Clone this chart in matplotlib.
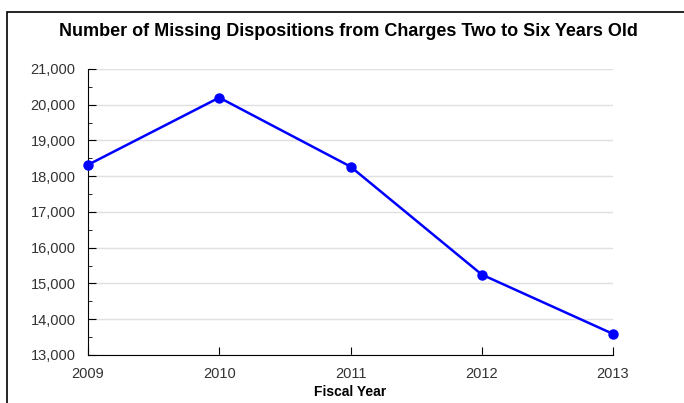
import matplotlib
matplotlib.use("Agg")
import matplotlib.pyplot as plt
from matplotlib.patches import Rectangle
from matplotlib.ticker import MultipleLocator, FuncFormatter

years = [2009, 2010, 2011, 2012, 2013]
missing = [18320, 20200, 18270, 15250, 13590]

plt.rcParams['font.family'] = ['Liberation Sans', 'DejaVu Sans']

fig = plt.figure(figsize=(6.84, 4.03), dpi=100)
ax = fig.add_axes([88/684, 1-355/403, (613-88)/684, (355-69)/403])

# figure frame (left and top visible)
fig.patches.append(Rectangle((7/684, -0.1), 1.2, 1 - 12/403 + 0.1, transform=fig.transFigure,
                             fill=False, edgecolor='black', linewidth=1.2, clip_on=False))

ax.plot(years, missing, color='#0000ff', linewidth=1.8, marker='o', markersize=6.5, clip_on=False, zorder=3)

ax.set_xlim(2009, 2013)
ax.set_ylim(13000, 21000)
ax.set_xticks(years)
ax.yaxis.set_major_locator(MultipleLocator(1000))
ax.yaxis.set_minor_locator(MultipleLocator(500))
ax.yaxis.set_major_formatter(FuncFormatter(lambda v, p: f"{int(v):,}"))
ax.grid(axis='y', which='major', color='#e0e0e0', linewidth=1)
ax.set_axisbelow(True)
for s in ['top', 'right']:
    ax.spines[s].set_visible(False)
ax.tick_params(axis='both', which='major', direction='in', length=6, labelsize=10.5, labelcolor='#333333')
ax.tick_params(axis='y', which='minor', direction='in', length=3)
ax.tick_params(axis='x', pad=8.5)
ax.tick_params(axis='y', pad=9)

ax.set_xlabel('Fiscal Year', fontsize=10, fontweight='bold', labelpad=3)
fig.text(348/684, 1-32/403, 'Number of Missing Dispositions from Charges Two to Six Years Old',
         ha='center', va='center', fontsize=13, fontweight='bold')

fig.savefig('out.png', dpi=100)
